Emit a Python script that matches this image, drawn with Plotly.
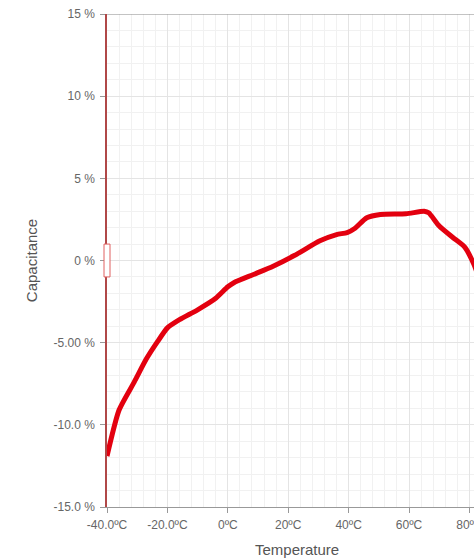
import plotly.graph_objects as go

temperature = [-40, -36, -31, -27, -23.5, -20, -16, -10, -4, 0, 2, 8.5, 15, 22, 30.5, 36, 39.5, 42, 46, 50.5, 59, 65, 66.5, 70, 74.5, 78.5, 81.5, 83]
capacitance = [-11.9, -9.1, -7.4, -6.0, -5.0, -4.1, -3.6, -3.0, -2.3, -1.6, -1.35, -0.85, -0.35, 0.3, 1.2, 1.58, 1.7, 1.95, 2.6, 2.8, 2.84, 3.0, 2.9, 2.1, 1.4, 0.8, -0.25, -1.0]

y_ticks = [15, 10, 5, 0, -5, -10, -15]
y_tick_text = ["15 %", "10 %", "5 %", "0 %", "-5.00 %", "-10.0 %", "-15.0 %"]
x_ticks = [-40, -20, 0, 20, 40, 60, 80]
x_tick_text = ["-40.0ºC", "-20.0ºC", "0ºC", "20ºC", "40ºC", "60ºC", "80ºC"]

FONT = "Liberation Sans, Arial, sans-serif"

fig = go.Figure()
fig.add_trace(go.Scatter(
    x=temperature, y=capacitance, mode="lines",
    line=dict(color="#e3000f", width=5, shape="spline", smoothing=0.6),
    hoverinfo="skip", showlegend=False,
))

fig.update_layout(
    width=474, height=558,
    margin=dict(l=107, r=0, t=14, b=51, autoexpand=False),
    paper_bgcolor="white", plot_bgcolor="white",
    font=dict(family=FONT, size=12, color="#666"),
    xaxis=dict(
        range=[-40, 81.5], tickvals=x_ticks, ticktext=x_tick_text,
        showgrid=True, gridcolor="#e4e4e4", gridwidth=1,
        minor=dict(dtick=4, tick0=-40, showgrid=True, gridcolor="#f1f1f1", gridwidth=1),
        showline=True, linecolor="#999", linewidth=1,
        ticks="outside", ticklen=5, tickcolor="#999",
        tickfont=dict(size=12, color="#666"), zeroline=False,
        ticklabelstandoff=2, ticklabeloverflow="allow", automargin=False,
    ),
    yaxis=dict(
        range=[-15, 15], tickvals=y_ticks, ticktext=y_tick_text,
        showgrid=True, gridcolor="#e4e4e4", gridwidth=1,
        minor=dict(dtick=1, tick0=-15, showgrid=True, gridcolor="#f1f1f1", gridwidth=1),
        showline=True, linecolor="#b04848", linewidth=1.5,
        ticks="outside", ticklen=5, tickcolor="#999",
        tickfont=dict(size=12, color="#666"), zeroline=False,
        ticklabelstandoff=3, automargin=False,
        title=dict(text="Capacitance", font=dict(size=15, color="#555"), standoff=12),
    ),
    shapes=[
        dict(type="line", xref="paper", yref="y", x0=0, x1=1, y0=15, y1=15,
             line=dict(color="#888", width=1)),
        dict(type="rect", xref="paper", yref="y", xsizemode="pixel", xanchor=0,
             x0=-3, x1=3, y0=-1.0, y1=1.0,
             line=dict(color="#e06060", width=1), fillcolor="white", layer="above"),
    ],
    annotations=[
        dict(text="Temperature", xref="paper", yref="paper", x=0.518, y=0,
             yshift=-42, xanchor="center", yanchor="middle", showarrow=False,
             font=dict(size=15, color="#555")),
    ],
)

fig.write_html(
    "out.html",
    config={"displayModeBar": False},
    post_script="document.body.style.margin='0';document.documentElement.style.overflow='hidden';document.body.style.overflow='hidden';",
)
